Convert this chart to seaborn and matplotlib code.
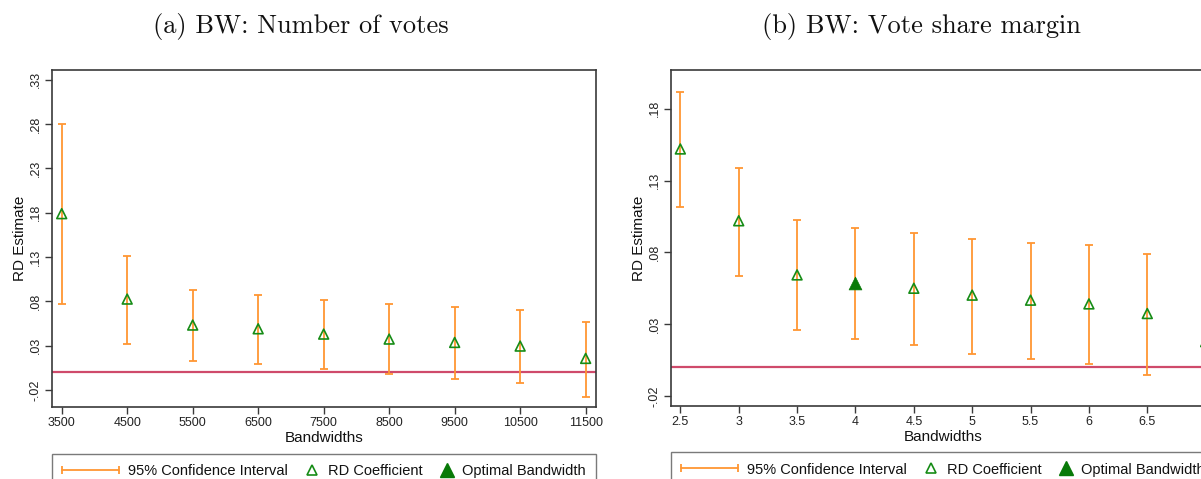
"""
RD estimates across bandwidths: (a) number of votes, (b) vote share margin.
Output: out.png
"""

import numpy as np
import pandas as pd
import matplotlib
matplotlib.use("Agg")
import matplotlib.pyplot as plt
from matplotlib.lines import Line2D
from matplotlib.legend_handler import HandlerLine2D
from matplotlib.ticker import FuncFormatter
import seaborn as sns

# ==========================================
# DATA
# ==========================================
bw_votes = [3500, 4500, 5500, 6500, 7500, 8500, 9500, 10500, 11500]
coef_votes = [0.179, 0.0827, 0.0534, 0.0492, 0.0432, 0.0376, 0.0338, 0.0297, 0.0158]
lo_votes = [0.077, 0.0323, 0.0127, 0.0093, 0.0037, -0.0023, -0.0072, -0.0118, -0.0276]
hi_votes = [0.280, 0.131, 0.0929, 0.0869, 0.0816, 0.0767, 0.0733, 0.0700, 0.0567]
opt_votes = None

bw_share = [2.5, 3, 3.5, 4, 4.5, 5, 5.5, 6, 6.5, 7]
coef_share = [0.152, 0.102, 0.0643, 0.059, 0.055, 0.0502, 0.0467, 0.0441, 0.0374, 0.0178]
lo_share = [0.1115, 0.0638, 0.026, 0.0197, 0.0155, 0.0095, 0.0058, 0.0025, -0.0052, -0.013]
hi_share = [0.192, 0.139, 0.1024, 0.097, 0.0938, 0.0894, 0.0868, 0.085, 0.079, 0.0485]
opt_share = 4

yticks_votes = [-0.02, 0.03, 0.08, 0.13, 0.18, 0.23, 0.28, 0.33]
yticks_share = [-0.02, 0.03, 0.08, 0.13, 0.18]

titles = ["(a) BW: Number of votes", "(b) BW: Vote share margin"]

ORANGE = "#ff9633"
GREEN = "#168c16"
GREEN_FILL = "#087a08"
RED = "#cf4a6b"
FRAME = "#3a3a3a"

sns.set_theme(style="white")
plt.rcParams["font.family"] = ["Liberation Sans", "DejaVu Sans"]


class HandlerRightMarker(HandlerLine2D):
    # put the marker near the right end of the handle box (Stata-like key)
    def get_xdata(self, legend, xdescent, ydescent, width, height, fontsize):
        x = -xdescent + width - 0.45 * fontsize
        return [x, x], [x]


def dot_fmt(v, pos):
    s = f"{v:.2f}"
    return s.replace("0.", ".")


def draw_panel(ax, bw, coef, lo, hi, opt, xlim, ylim, yticks, xfmt):
    df = pd.DataFrame({"bw": bw, "coef": coef, "lo": lo, "hi": hi})
    df["optimal"] = df["bw"] == opt if opt is not None else False

    ax.axhline(0, color=RED, lw=1.6, zorder=1)
    ax.errorbar(df["bw"], df["coef"],
                yerr=[df["coef"] - df["lo"], df["hi"] - df["coef"]],
                fmt="none", ecolor=ORANGE, elinewidth=1.3, capsize=2.9,
                capthick=1.3, zorder=2)

    rest = df[~df["optimal"]]
    sns.scatterplot(data=rest, x="bw", y="coef", marker="^", s=50,
                    facecolor="none", edgecolor=GREEN, linewidth=1.2,
                    zorder=3, legend=False, ax=ax)
    best = df[df["optimal"]]
    if len(best):
        sns.scatterplot(data=best, x="bw", y="coef", marker="^", s=85,
                        color=GREEN_FILL, edgecolor=GREEN_FILL, linewidth=0.5,
                        zorder=4, legend=False, ax=ax)

    ax.set_xlim(*xlim)
    ax.set_ylim(*ylim)
    ax.set_xticks(bw)
    ax.xaxis.set_major_formatter(FuncFormatter(xfmt))
    ax.set_yticks(yticks)
    ax.yaxis.set_major_formatter(FuncFormatter(dot_fmt))

    ax.tick_params(axis="both", direction="out", length=5, width=1.0,
                   color=FRAME, labelsize=9, labelcolor="#222222",
                   left=True, bottom=True, pad=2.5)
    for lab in ax.get_yticklabels():
        lab.set_rotation(90)
        lab.set_va("center")

    for sp in ax.spines.values():
        sp.set_color(FRAME)
        sp.set_linewidth(1.2)

    ax.set_xlabel("Bandwidths", fontsize=11, labelpad=1, color="#111111")
    ax.set_ylabel("RD Estimate", fontsize=11, labelpad=2, color="#111111")

    ci_key = Line2D([], [], color=ORANGE, lw=1.3, marker="|",
                    markersize=6, markeredgewidth=1.3)
    coef_key = Line2D([], [], color=GREEN, lw=0, marker="^", markersize=6.5,
                      markerfacecolor="none", markeredgewidth=1.2)
    opt_key = Line2D([], [], color=GREEN_FILL, lw=0, marker="^",
                     markersize=9.5)
    leg = ax.legend(
        [ci_key, coef_key, opt_key],
        ["95% Confidence Interval", "RD Coefficient", "Optimal Bandwidth"],
        handler_map={ci_key: HandlerLine2D(numpoints=2, marker_pad=0),
                     coef_key: HandlerRightMarker(),
                     opt_key: HandlerRightMarker()},
        loc="upper center", bbox_to_anchor=(0.5, -0.139), borderaxespad=0,
        ncol=3, fontsize=10.5, handlelength=3.9, handletextpad=0.6,
        columnspacing=-1.75, borderpad=0.7, frameon=True, fancybox=False,
        edgecolor="#7a7a7a", framealpha=1,
    )
    leg.get_frame().set_linewidth(1.0)
    for t in leg.get_texts():
        t.set_color("#111111")


fig = plt.figure(figsize=(12.01, 4.79), dpi=100)
ax_a = fig.add_axes([52 / 1201, 1 - 407 / 479, 544 / 1201, 337 / 479])
ax_b = fig.add_axes([671 / 1201, 1 - 405.7 / 479, 544 / 1201, 335.7 / 479])

draw_panel(ax_a, bw_votes, coef_votes, lo_votes, hi_votes, opt_votes,
           (3352, 11658), (-0.039, 0.341), yticks_votes,
           lambda v, p: f"{v:.0f}")
draw_panel(ax_b, bw_share, coef_share, lo_share, hi_share, opt_share,
           (2.42, 7.08), (-0.0268, 0.207), yticks_share,
           lambda v, p: f"{v:g}")

fig.text(301 / 1201, 1 - 27 / 479, titles[0], family="cmr10", fontsize=19,
         ha="center", va="center", color="#111111")
fig.text(921 / 1201, 1 - 27 / 479, titles[1], family="cmr10", fontsize=19,
         ha="center", va="center", color="#111111")

fig.savefig("out.png", dpi=100, facecolor="white")
